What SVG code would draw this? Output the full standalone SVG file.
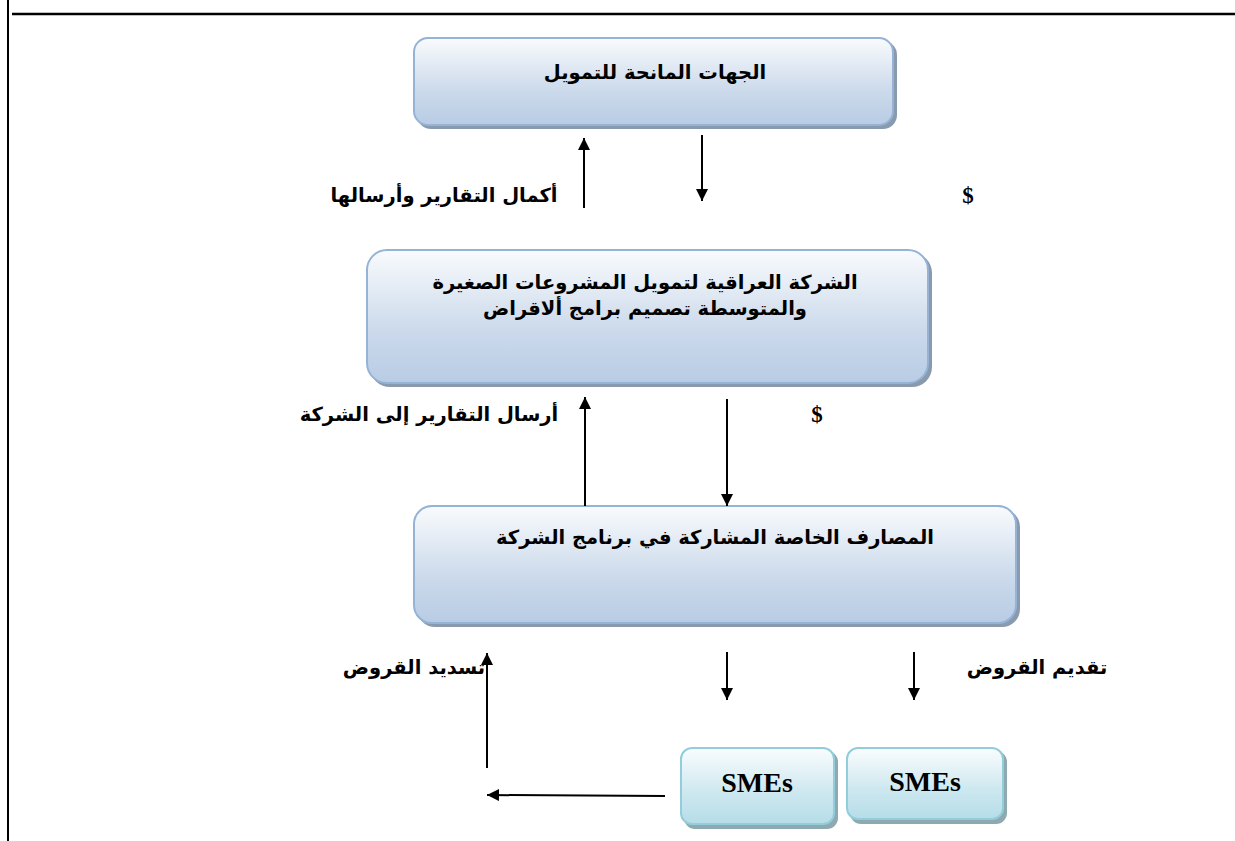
<svg xmlns="http://www.w3.org/2000/svg" width="1235" height="841" viewBox="0 0 1235 841">
<defs>
<linearGradient id="gBlue" x1="0" y1="0" x2="0" y2="1">
<stop offset="0" stop-color="#f9fbfd"/>
<stop offset="0.6" stop-color="#ccdaeb"/>
<stop offset="1" stop-color="#b8cce4"/>
</linearGradient>
<linearGradient id="gCyan" x1="0" y1="0" x2="0" y2="1">
<stop offset="0" stop-color="#fafdfe"/>
<stop offset="0.6" stop-color="#cce7ef"/>
<stop offset="1" stop-color="#b6dde8"/>
</linearGradient>
<marker id="ah" viewBox="0 0 10 10" refX="10" refY="5" markerWidth="14" markerHeight="12" markerUnits="userSpaceOnUse" orient="auto">
<path d="M0,0 L10,5 L0,10 Z" fill="#000"/>
</marker>
</defs>
<style>
.box{fill:url(#gBlue);stroke:#95b3d7;stroke-width:2}
.sbox{fill:url(#gCyan);stroke:#92cddc;stroke-width:2}
.shadow{fill:#8a9aae}
.sshadow{fill:#8fa9b0}
.ar{font-family:"DejaVu Sans","Liberation Sans",sans-serif;font-weight:bold;font-size:19.5px;fill:#000;text-anchor:middle}
.en{font-family:"Liberation Serif",serif;font-weight:bold;font-size:28px;fill:#000;text-anchor:middle}
.dl{font-family:"Liberation Serif",serif;font-weight:bold;font-size:23px;fill:#000;text-anchor:middle}
.ln{stroke:#000;stroke-width:2;fill:none}
</style>
<g id="frame">
<line x1="8" y1="0" x2="8" y2="841" stroke="#000" stroke-width="2"/>
<line x1="12" y1="14" x2="1235" y2="14" stroke="#000" stroke-width="2.5"/>
</g>
<g id="node-donors">
<rect class="shadow" x="417" y="41" width="480" height="88" rx="14"/>
<rect class="box" x="414" y="38" width="479" height="87" rx="14"/>
<text class="ar" x="655" y="79">الجهات المانحة للتمويل</text>
</g>
<g id="node-company">
<rect class="shadow" x="370" y="253" width="562" height="134" rx="20"/>
<rect class="box" x="367" y="250" width="561" height="133" rx="20"/>
<text class="ar" x="645" y="289">الشركة العراقية لتمويل المشروعات الصغيرة</text>
<text class="ar" x="645" y="315">والمتوسطة تصميم برامج ألاقراض</text>
</g>
<g id="node-banks">
<rect class="shadow" x="417" y="509" width="603" height="118" rx="18"/>
<rect class="box" x="414" y="506" width="602" height="117" rx="18"/>
<text class="ar" x="715" y="544">المصارف الخاصة المشاركة في برنامج الشركة</text>
</g>
<g id="node-smes1">
<rect class="sshadow" x="684" y="751" width="154" height="78" rx="11"/>
<rect class="sbox" x="681" y="748" width="153" height="76" rx="11"/>
<text class="en" x="757" y="792">SMEs</text>
</g>
<g id="node-smes2">
<rect class="sshadow" x="850" y="751" width="157" height="73" rx="11"/>
<rect class="sbox" x="847" y="748" width="156" height="71" rx="11"/>
<text class="en" x="925" y="791">SMEs</text>
</g>
<g id="connectors">
<line class="ln" x1="584" y1="208" x2="584" y2="138" marker-end="url(#ah)"/>
<line class="ln" x1="702" y1="135" x2="702" y2="201" marker-end="url(#ah)"/>
<line class="ln" x1="585" y1="506" x2="585" y2="397" marker-end="url(#ah)"/>
<line class="ln" x1="727" y1="399" x2="727" y2="506" marker-end="url(#ah)"/>
<line class="ln" x1="487" y1="768" x2="487" y2="653" marker-end="url(#ah)"/>
<line class="ln" x1="727" y1="652" x2="727" y2="700" marker-end="url(#ah)"/>
<line class="ln" x1="914" y1="652" x2="914" y2="700" marker-end="url(#ah)"/>
<line class="ln" x1="665" y1="796" x2="487" y2="795" marker-end="url(#ah)"/>
</g>
<g id="labels">
<text class="ar" x="444" y="202">أكمال التقارير وأرسالها</text>
<text class="dl" x="968" y="203">$</text>
<text class="ar" x="429" y="421">أرسال التقارير إلى الشركة</text>
<text class="dl" x="817" y="422">$</text>
<text class="ar" x="414" y="674">تسديد القروض</text>
<text class="ar" x="1037" y="674">تقديم القروض</text>
</g>
</svg>
